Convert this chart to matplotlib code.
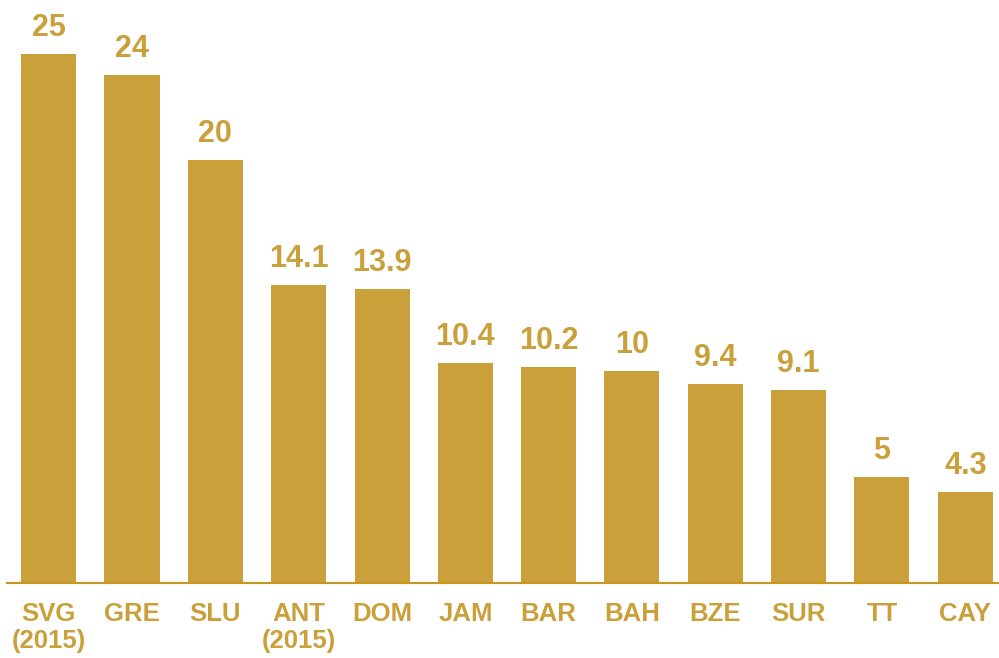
import matplotlib
matplotlib.use("Agg")
import matplotlib.pyplot as plt

# data
categories = ["SVG\n(2015)", "GRE", "SLU", "ANT\n(2015)", "DOM", "JAM",
              "BAR", "BAH", "BZE", "SUR", "TT", "CAY"]
values = [25, 24, 20, 14.1, 13.9, 10.4, 10.2, 10, 9.4, 9.1, 5, 4.3]
value_labels = ["25", "24", "20", "14.1", "13.9", "10.4", "10.2", "10",
                "9.4", "9.1", "5", "4.3"]

BAR_COLOR = "#C9A03A"
AXIS_COLOR = "#C8961E"
TEXT_COLOR = "#C9A03A"

plt.rcParams["font.family"] = ["Liberation Sans", "DejaVu Sans"]

W, H = 999, 658
fig = plt.figure(figsize=(W / 100, H / 100), dpi=100)
# axes in pixel terms: left 7, bottom at y=583, top at y=0, width 1000
ax = fig.add_axes([7 / W, (H - 583) / H, 1000 / W, 583 / H])

x = list(range(len(categories)))
ax.bar(x, values, width=0.66, color=BAR_COLOR)
ax.set_xlim(-0.5, len(categories) - 0.5)
ax.set_ylim(0, 583 / 21.16)

for xi, v, lab in zip(x, values, value_labels):
    ax.annotate(lab, (xi, v), xytext=(0, 13), textcoords="offset points",
                ha="center", va="baseline", fontsize=22, fontweight="bold",
                color=TEXT_COLOR)

ax.set_xticks(x)
ax.set_xticklabels(categories, fontsize=18.5, fontweight="bold",
                   color=TEXT_COLOR, linespacing=1.15)
ax.tick_params(axis="x", length=0, pad=14)
ax.set_yticks([])
for side in ["top", "right", "left"]:
    ax.spines[side].set_visible(False)
ax.spines["bottom"].set_color(AXIS_COLOR)
ax.spines["bottom"].set_linewidth(1.5)

fig.savefig("out.png", dpi=100)
